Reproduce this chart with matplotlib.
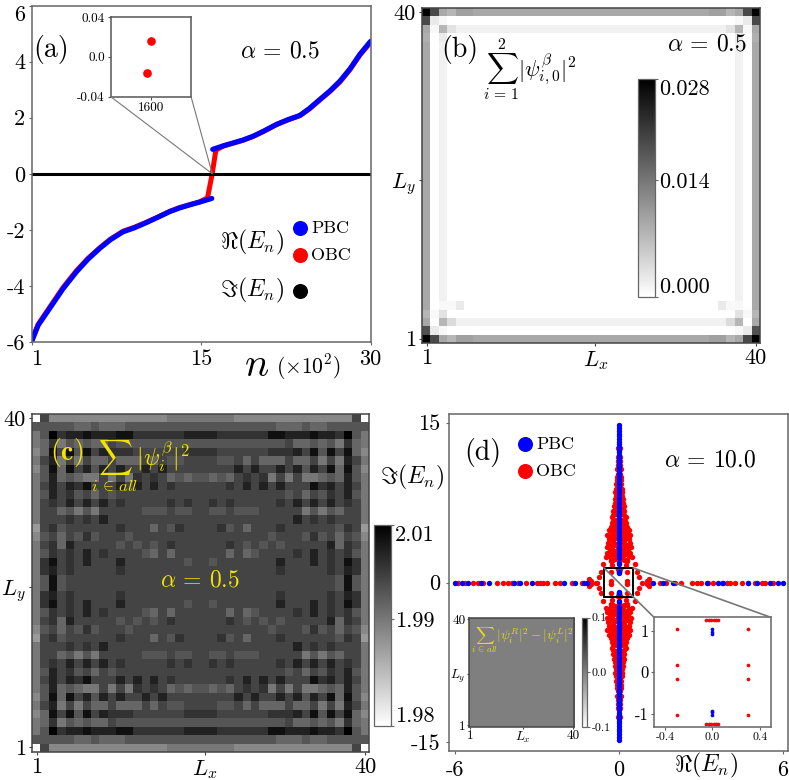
import matplotlib
matplotlib.use('Agg')
import matplotlib.pyplot as plt
import numpy as np
from matplotlib.patches import ConnectionPatch, Rectangle

plt.rcParams['font.family'] = ['cmr10', 'DejaVu Serif']
plt.rcParams['mathtext.fontset'] = 'cm'
plt.rcParams['axes.unicode_minus'] = False
plt.rcParams['axes.formatter.use_mathtext'] = True

W, H = 789, 780

# (a) spectrum, alpha = 0.5
pbc_low_n = [1, 60, 162, 280, 398, 500, 605, 700, 811, 910, 1018, 1120, 1224, 1310, 1401, 1490, 1596]
pbc_low_e = [-6, -5.4, -4.8, -4.1, -3.5, -3.05, -2.66, -2.35, -2.07, -1.93, -1.74, -1.55, -1.35, -1.22, -1.11, -1.01, -0.88]
pbc_up_n = [1604, 1700, 1785, 1870, 1962, 2060, 2168, 2270, 2375, 2460, 2552, 2640, 2729, 2820, 2906, 3000]
pbc_up_e = [0.87, 1.0, 1.1, 1.2, 1.34, 1.53, 1.76, 1.93, 2.08, 2.33, 2.65, 2.95, 3.3, 3.75, 4.26, 4.72]
obc_n = [1, 60, 162, 280, 398, 500, 605, 700, 811, 910, 1018, 1120, 1224, 1310, 1401, 1490, 1558, 1599, 1600,
         1632, 1700, 1785, 1870, 1962, 2060, 2168, 2270, 2375, 2460, 2552, 2640, 2729, 2820, 2906, 3000]
obc_e = [-5.96, -5.37, -4.76, -4.06, -3.46, -3.02, -2.64, -2.33, -2.05, -1.91, -1.73, -1.54, -1.34, -1.21, -1.1, -1.0, -0.86, -0.016, 0.016,
         0.84, 0.99, 1.09, 1.19, 1.33, 1.52, 1.75, 1.92, 2.07, 2.31, 2.63, 2.93, 3.27, 3.72, 4.23, 4.68]
inset_a_n = [1599, 1600]
inset_a_e = [-0.016, 0.016]

# (b) and (c) maps: digits are shade steps, bottom row first, left half only
b_bottom = ["zpcaddcccccccccccccc", "o3100000000000000000", "c0a52222222222222222",
            "a1400000000000000000", "c0113000000000000000", "c0200000000000000000"]
b_middle = "c0200000000000000000"
b_top = ["zpcaddcccccccccccccc", "p3100000000000000000", "c1a42222222222222222",
         "b0300000000000000000"]

c_rows = ["0b777777777777778888", "aaaaa99a999aaaaaaaaa", "8afcddedddeeccccccdd",
          "89c8a9a99baaaaaaaaaa", "79ebeaebdcccbbbbbbcc", "8bd8b8b99b999b9baabb",
          "7ae9ebdadbdbbdbdbbbb", "8ad9a988b8b8cbcb9a9a", "8bdbdcebbbdbdbdbcbbb",
          "8adbcab9babbbbbbbbbb", "8bcbdbdbdbcbbbbbcbcb", "8bb9a8a8bbbbbaaabaab",
          "8bbbcbcbdbbbbbbbbbbb", "6bcabbbbbbcbbb9bacbb", "7ab9bacabbbabbbbbbbb",
          "8bc9dbbbbbabababcbbb", "8acbcbdbcbbbba9b9bbb", "8cebcbdbbbdbbbbbbbab",
          "8cdbcbbbbbcbbbbbbbbb", "8aeabbbbbbbbbbbbbbbb"]

# (d) complex spectrum, alpha = 10
real_pbc = [-6.0, -5.76, -5.54, -5.06, -4.74, -3.84, -3.62, -3.2, -2.01, -1.59, -1.28, -1.18,
            1.26, 1.62, 1.99, 3.21, 3.63, 3.82, 4.73, 5.04, 5.52, 5.83, 6.01]
real_obc = [-5.88, -5.63, -5.33, -5.15, -4.96, -4.48, -4.23, -4.05, -3.93, -3.68, -3.4, -3.01, -2.89, -2.77,
            -2.65, -2.34, -2.16, -1.73, -1.37, -0.79, 0.85, 1.13, 1.5, 1.74, 2.05, 2.29, 2.66, 2.84, 3.02,
            3.27, 3.45, 3.76, 3.94, 4.06, 4.24, 4.49, 4.73, 4.98, 5.22, 5.34, 5.65, -0.85]
cloud_x = [0.3, 0.3, 0.01, 0.03, 0.05, 0.65, 0.74, 0.57, 0.29, 0.27, 1.1, 1.02,
           0.1, 0.2, 0.28, 0.46, 0.36, 0.2, 0.34, 0.12, 0.24, 0.31, 0.18, 0.1, 0.44,
           0.38, 0.26, 0.14, 0.42, 0.3, 0.2, 0.1, 0.3, 0.2, 0.12, 0.22, 0.12, 0.2, 0.1,
           0.16, 0.08, 0.14, 0.07, 0.12, 0.06, 0.1, 0.05, 0.08, 0.05, 0.04, 0.03, 0.03,
           0.07, 0.3, 0.42, 0.2, 0.05, 0.3, 0.4, 0.2, 0.05, 0.33, 0.22, 0.1, 0.37, 0.15,
           0.26, 0.16, 0.25, 0.15, 0.2, 0.18, 0.15, 0.1, 0.13, 0.09, 0.07, 0.06, 0.05]
cloud_y = [0.17, 1.03, 1.25, 1.25, 1.25, 1.03, 0.56, 1.72, 2.03, 1.6, 0.37, 0.1,
           2.2, 2.15, 2.1, 2.37, 2.5, 2.55, 3.06, 3.0, 3.1, 3.53, 3.5, 3.6, 3.3,
           4.1, 4.16, 4.2, 4.5, 4.7, 4.8, 4.9, 5.2, 5.3, 5.4, 5.8, 5.9, 6.3, 6.4,
           6.9, 7.0, 7.5, 7.6, 8.1, 8.2, 8.8, 9.0, 9.6, 10.2, 11.0, 11.8, 12.6,
           2.6, 2.75, 2.8, 2.95, 3.3, 3.3, 3.75, 3.85, 4.3, 4.3, 4.45, 4.5, 4.9, 5.1,
           5.55, 5.6, 6.1, 6.6, 6.7, 7.2, 7.8, 8.5, 8.5, 9.2, 9.9, 10.6, 11.4]
column_pbc = [0.92, 0.96, 1.03, 1.72, 1.85, 2.3, 2.55, 2.8, 3.05, 3.3, 3.7, 3.95, 4.2, 4.45, 4.7, 4.95, 5.2, 5.45,
              5.7, 5.95, 6.2, 6.45, 6.7, 6.95, 7.2, 7.45, 7.7, 7.95, 8.2, 8.45, 8.7, 8.95, 9.2, 9.45, 9.7, 9.95,
              10.2, 10.45, 10.7, 10.95, 11.2, 11.45, 11.7, 11.95, 12.2, 12.45, 12.7, 12.95, 13.2, 13.45, 13.7,
              13.95, 14.2, 14.45, 14.8]

yellow = '#f2e300'
red = '#ff0000'
blue = '#0000ff'

fig = plt.figure(figsize=(W / 100, H / 100), dpi=100)


def add_ax(left, top, right, bottom):
    return fig.add_axes([left / W, 1 - bottom / H, (right - left) / W, (bottom - top) / H])


def put(x, y, s, size, color='black', ha='center'):
    fig.text(x / W, 1 - y / H, s, fontsize=size, color=color, ha=ha, va='center')


def style(ax, edge='#666666', size=16, length=2.5):
    for sp in ax.spines.values():
        sp.set_color(edge)
        sp.set_linewidth(1.1)
    ax.tick_params(labelsize=size, length=length, width=0.8, color=edge, pad=2)


def spread(rows):
    # digit strings to numbers, right half is the mirror of the left
    half = np.array([[int(ch, 36) for ch in row] for row in rows], dtype=float)
    return np.hstack([half, half[:, ::-1]])


def site_map(ax, grid, vmin, vmax):
    im = ax.imshow(grid, origin='lower', extent=(0.5, 40.5, 0.5, 40.5), aspect='auto',
                   cmap='gray_r', vmin=vmin, vmax=vmax, interpolation='nearest')
    ax.set_xticks([1, 21, 40], ['1', r'$L_x$', '40'])
    ax.set_yticks([1, 20, 40], ['1', r'$L_y$', '40'])
    return im


def side_bar(im, cax, ticks, labels, size, snug=False):
    cb = fig.colorbar(im, cax=cax)
    cb.set_ticks(ticks, labels=labels)
    cb.ax.tick_params(labelsize=size, length=2, width=0.8, color='#666666', pad=1)
    cb.outline.set_edgecolor('#666666')
    cb.outline.set_linewidth(0.9)
    if snug:
        # end labels sit inside the bar height
        cb.ax.get_yticklabels()[0].set_va('bottom')
        cb.ax.get_yticklabels()[-1].set_va('top')
    return cb


# panel (a)
ax = add_ax(31.5, 5.5, 370.5, 342)
style(ax)
ax.plot(obc_n, obc_e, '-', color=red, lw=3.6, solid_capstyle='round')
ax.plot(pbc_low_n, pbc_low_e, '-', color=blue, lw=3.7, solid_capstyle='round')
ax.plot(pbc_up_n, pbc_up_e, '-', color=blue, lw=3.7, solid_capstyle='round')
ax.axhline(0, color='black', lw=2.2)
ax.set_xlim(1, 3000)
ax.set_ylim(-6, 6)
ax.set_xticks([1, 1500, 3000], ['1', '15', '30'])
ax.set_yticks([-6, -4, -2, 0, 2, 4, 6], ['-6', '-4', '-2', '0', '2', '4', '6'])
ax.get_xticklabels()[0].set_ha('left')
ax.get_yticklabels()[-1].set_va('top')
ax.tick_params(axis='x', pad=3)

ins = add_ax(110.5, 17, 191, 96.5)
style(ins, edge='#555555', size=9.5, length=2)
ins.plot(inset_a_n, inset_a_e, 'o', color=red, ms=5.2)
ins.set_xlim(1590, 1610)
ins.set_ylim(-0.04, 0.04)
ins.set_xticks([1600], ['1600'])
ins.set_yticks([-0.04, 0.0, 0.04], ['-0.04', '0.0', '0.04'])
for xa in (0, 1):
    fig.add_artist(ConnectionPatch(xyA=(xa, 0), coordsA=ins.transAxes, xyB=(1600, 0), coordsB=ax.transData,
                                   color='#777777', lw=0.8))

put(51, 50, '(a)', 20)
put(280, 51, r'$\alpha$ = 0.5', 17)
put(257, 366, r'$n$', 29)
put(308, 367, r'($\times 10^2$)', 15.5)
put(252, 242, r'$\Re(E_n)$', 17)
put(252, 290, r'$\Im(E_n)$', 17)
for yp, c in [(228, blue), (255, red), (291, 'black')]:
    fig.add_artist(plt.Line2D([300 / W], [1 - yp / H], marker='o', ms=9.8, color=c, linestyle='none'))
put(311, 228, 'PBC', 13, ha='left')
put(311, 255, 'OBC', 13, ha='left')

# panel (b)
ax = add_ax(422.3, 8.3, 760, 342.7)
style(ax, edge='#444444')
b_rows = b_bottom + [b_middle] * 30 + b_top[::-1]
b_grid = spread(b_rows) / 35 * 0.028
im = site_map(ax, b_grid, 0.0, 0.028)
cax = add_ax(638.3, 79, 655, 296.7)
side_bar(im, cax, [0.0, 0.015, 0.028], ['0.000', '0.014', '0.028'], 16, snug=True)
put(460, 50, '(b)', 20)
put(530, 70, r'$\sum_{i\,=\,1}^{2}|\psi_{i,0}^{\beta}|^2$', 16)
put(707, 44, r'$\alpha$ = 0.5', 17)

# panel (c)
ax = add_ax(32.3, 414, 369.3, 751.7)
style(ax, edge='#444444')
c_half = spread(c_rows) / 15 * 0.03 + 1.98
c_grid = np.vstack([c_half, c_half[::-1]])
im = site_map(ax, c_grid, 1.98, 2.01)
cax = add_ax(374, 525, 391, 726)
side_bar(im, cax, [1.98, 1.996, 2.01], ['1.98', '1.99', '2.01'], 16, snug=True)
put(67, 452, r'($\mathbf{c}$)', 20, color=yellow)
put(140, 466, r'$\sum_{i\,\in\,all}|\psi_{i}^{\beta}|^2$', 17, color=yellow)
put(200, 580, r'$\alpha$ = 0.5', 17, color=yellow)

# panel (d)
ax = add_ax(449, 414, 787.5, 751)
style(ax)
all_x = np.concatenate([real_obc, cloud_x, np.negative(cloud_x), cloud_x, np.negative(cloud_x)])
all_y = np.concatenate([np.zeros(len(real_obc)), cloud_y, cloud_y, np.negative(cloud_y), np.negative(cloud_y)])
pbc_x = np.concatenate([real_pbc, np.zeros(2 * len(column_pbc))])
pbc_y = np.concatenate([np.zeros(len(real_pbc)), column_pbc, np.negative(column_pbc)])
ax.scatter(all_x, all_y, s=15, color=red, linewidths=0)
ax.scatter(pbc_x, pbc_y, s=15, color=blue, linewidths=0)
ax.set_xlim(-6.22, 6.17)
ax.set_ylim(-15.8, 15.8)
ax.set_xticks([-6, 0, 6], ['-6', '0', '6'])
ax.set_yticks([-15, 0, 15], ['-15', '0', '15'])
ax.tick_params(axis='both', pad=4)
put(483, 452, '(d)', 20)
put(710, 460, r'$\alpha$ = 10.0', 17)
put(412, 477, r'$\Im(E_n)$', 17)
put(706, 765, r'$\Re(E_n)$', 17)
for yp, c in [(444, blue), (471, red)]:
    fig.add_artist(plt.Line2D([525 / W], [1 - yp / H], marker='o', ms=9.8, color=c, linestyle='none'))
put(536, 444, 'PBC', 13, ha='left')
put(536, 471, 'OBC', 13, ha='left')

zoom = add_ax(654, 617.3, 770.7, 727.3)
style(zoom, edge='#666666', size=12, length=2)
zoom.scatter(all_x, all_y, s=7, color=red, linewidths=0)
zoom.scatter(pbc_x, pbc_y, s=7, color=blue, linewidths=0)
zoom.set_xlim(-0.493, 0.493)
zoom.set_ylim(-1.32, 1.32)
zoom.set_xticks([-0.4, 0.0, 0.4], ['-0.4', '0.0', '0.4'])
zoom.set_yticks([-1, 0, 1], ['-1', '0', '1'])
zoom.tick_params(axis='x', labelsize=8.5)
ax.add_patch(Rectangle((-0.55, -1.37), 1.07, 2.74, fill=False, edgecolor='black', lw=1.4, zorder=6))
for box_x, zx in [(-0.55, 0), (0.52, 1)]:
    fig.add_artist(ConnectionPatch(xyA=(zx, 1), coordsA=zoom.transAxes, xyB=(box_x, 1.37), coordsB=ax.transData,
                                   color='#777777', lw=1.2))

small = add_ax(469, 617.7, 574.3, 726.7)
style(small, edge='#444444', size=9.5, length=1.5)
small_grid = np.zeros((40, 40))
im = site_map(small, small_grid, -0.1, 0.1)
small.tick_params(pad=1)
cax = add_ax(581.7, 617.7, 587.3, 727)
side_bar(im, cax, [-0.1, 0.0, 0.1], ['-0.1', '0.0', '0.1'], 8.5)
put(522, 640, r'$\sum_{i\,\in\,all}|\psi_{i}^{R}|^2-|\psi_{i}^{L}|^2$', 9.5, color='#e6dc1e')

fig.savefig('out.png', dpi=100)
